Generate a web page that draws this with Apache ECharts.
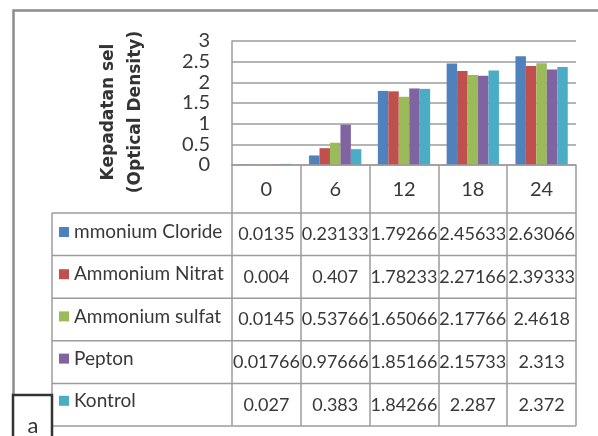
<!DOCTYPE html>
<html>
<head>
<meta charset="utf-8">
<script src="https://cdn.jsdelivr.net/npm/echarts@6/dist/echarts.min.js"></script>
<style>
  html, body { margin: 0; padding: 0; background: #ffffff; }
  #chart { width: 598px; height: 436px; }
</style>
</head>
<body>
<div id="chart"></div>
<script>
// Sampling hours (category axis / table header)
const hours = ['0', '6', '12', '18', '24'];

// Series names as shown in the data table
const seriesNames = ['mmonium Cloride', 'Ammonium Nitrat', 'Ammonium sulfat', 'Pepton', 'Kontrol'];

// Optical density per treatment, one value per sampling hour
const ammoniumCloride = [0.0135, 0.23133, 1.79266, 2.45633, 2.63066];
const ammoniumNitrat  = [0.004, 0.407, 1.78233, 2.27166, 2.39333];
const ammoniumSulfat  = [0.0145, 0.53766, 1.65066, 2.17766, 2.4618];
const pepton          = [0.01766, 0.97666, 1.85166, 2.15733, 2.313];
const kontrol         = [0.027, 0.383, 1.84266, 2.287, 2.372];

const seriesValues = [ammoniumCloride, ammoniumNitrat, ammoniumSulfat, pepton, kontrol];
const seriesColors = ['#4F81BD', '#C0504D', '#9BBB59', '#8064A2', '#4BACC6'];

// y-axis ticks
const yMin = 0, yMax = 3, yStep = 0.5;

// Layout of the plot and the data table below it
const plotLeft = 232, plotRight = 576, plotTop = 41, plotBottom = 165;
const headerBottom = 213;
const rowHeight = 42.6;
const tableLeft = 52;
const tableBottom = headerBottom + rowHeight * 5;
const gridColor = '#9c9c9c';
const textColor = '#383838';
const font = 'Lato, "Open Sans", sans-serif';

const chart = echarts.init(document.getElementById('chart'), null, { renderer: 'canvas' });

// One extra bottom axis per table row; its labels print that row's values
const rowAxes = seriesValues.map((vals, i) => ({
  type: 'category',
  gridIndex: 0,
  position: 'bottom',
  data: hours,
  offset: headerBottom + rowHeight * (i + 0.5) - plotBottom,
  axisLine: { show: false },
  axisTick: { show: false },
  axisLabel: {
    interval: 0,
    margin: 0,
    verticalAlign: 'middle',
    color: textColor,
    fontFamily: font,
    fontSize: 18,
    formatter: (v, idx) => String(vals[idx])
  }
}));

// Horizontal rules of the table (rows extend left under the legend column)
const tableLines = [];
for (let r = 0; r <= 5; r++) {
  const y = headerBottom + rowHeight * r;
  tableLines.push({
    type: 'line',
    shape: { x1: tableLeft, y1: y, x2: plotRight, y2: y },
    style: { stroke: gridColor, lineWidth: 1.5 }
  });
}
tableLines.push({
  type: 'line',
  shape: { x1: tableLeft, y1: headerBottom, x2: tableLeft, y2: tableBottom },
  style: { stroke: gridColor, lineWidth: 1.5 }
});

const option = {
  backgroundColor: '#ffffff',
  animation: false,
  grid: {
    left: plotLeft,
    right: 598 - plotRight,
    top: plotTop,
    bottom: 436 - plotBottom,
    containLabel: false
  },
  legend: {
    orient: 'vertical',
    left: 59,
    top: 222,
    padding: 0,
    itemWidth: 10,
    itemHeight: 10,
    itemGap: 22.2,
    icon: 'rect',
    selectedMode: false,
    data: seriesNames,
    textStyle: {
      color: textColor,
      fontFamily: font,
      fontSize: 19,
      lineHeight: 20
    }
  },
  xAxis: [
    {
      type: 'category',
      data: hours,
      z: 5,
      axisLine: { show: true, lineStyle: { color: gridColor, width: 1.5 } },
      axisTick: {
        show: true,
        alignWithLabel: false,
        length: tableBottom - plotBottom,
        lineStyle: { color: gridColor, width: 1.5 }
      },
      axisLabel: {
        interval: 0,
        margin: 24.5,
        verticalAlign: 'middle',
        color: textColor,
        fontFamily: font,
        fontSize: 20
      }
    }
  ].concat(rowAxes),
  yAxis: {
    type: 'value',
    min: yMin,
    max: yMax,
    interval: yStep,
    name: 'Kepadatan sel\n(Optical Density)',
    nameLocation: 'middle',
    nameRotate: 90,
    nameGap: 83,
    nameTextStyle: {
      color: '#333333',
      fontFamily: '"DejaVu Sans", sans-serif',
      fontWeight: 'bold',
      fontSize: 17,
      lineHeight: 27,
      padding: [0, 18, 0, 0]
    },
    axisLine: { show: true, lineStyle: { color: gridColor, width: 1.5 } },
    axisTick: { show: false },
    splitLine: { show: true, lineStyle: { color: gridColor, width: 1.5 } },
    axisLabel: {
      margin: 22,
      color: textColor,
      fontFamily: font,
      fontSize: 20
    }
  },
  series: seriesValues.map((vals, i) => ({
    name: seriesNames[i],
    type: 'bar',
    data: vals,
    barGap: '0%',
    barCategoryGap: '24%',
    itemStyle: { color: seriesColors[i] }
  })),
  graphic: [
    // outer chart frame
    {
      type: 'polyline',
      shape: { points: [[13.5, 436], [13.5, 10.5], [598, 10.5]] },
      style: { stroke: '#8c8c8c', lineWidth: 2.5, fill: null },
      z: 10
    },
    // panel tag
    {
      type: 'rect',
      shape: { x: 13, y: 395, width: 39, height: 50 },
      style: { stroke: '#333333', lineWidth: 2.5, fill: '#ffffff' },
      z: 11
    },
    {
      type: 'text',
      x: 33,
      y: 426,
      style: {
        text: 'a',
        fill: '#333333',
        font: '22px ' + font,
        textAlign: 'center',
        textVerticalAlign: 'middle'
      },
      z: 12
    }
  ].concat(tableLines)
};

chart.setOption(option);
</script>
</body>
</html>
